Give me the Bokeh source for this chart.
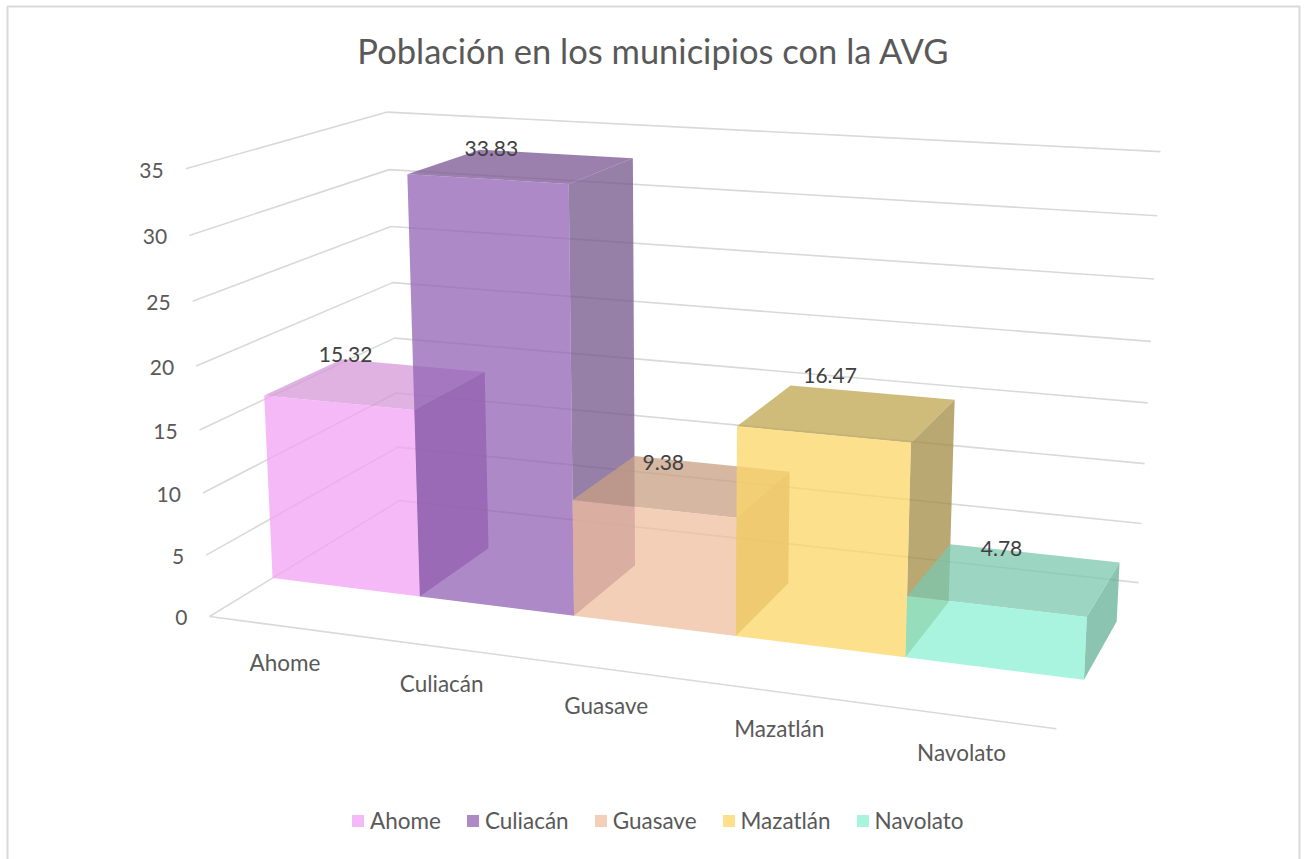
import numpy as np
from bokeh.core.properties import value
from bokeh.embed import file_html
from bokeh.models import Legend, LegendItem, Range1d
from bokeh.plotting import figure
from bokeh.resources import INLINE

# ---- data ----
categories = ["Ahome", "Culiacán", "Guasave", "Mazatlán", "Navolato"]
values = [15.32, 33.83, 9.38, 16.47, 4.78]
value_labels = ["15.32", "33.83", "9.38", "16.47", "4.78"]
y_ticks = [0, 5, 10, 15, 20, 25, 30, 35]
title_text = "Población en los municipios con la AVG"

# ---- composite colours as seen on white ----
ALPHA = 0.75
front_cols = ["#F5B9F8", "#AD8AC7", "#F4CFB8", "#FCE08B", "#A8F4DF"]
top_cols = ["#E0B2E2", "#9B80AE", "#D6B8A2", "#CFBC7B", "#9CD6C3"]
side_cols = ["#B480BA", "#9680A8", "#C9A898", "#B9A872", "#8BC5B2"]

def solid(hex_col):
    rgb = np.array([int(hex_col[i:i + 2], 16) for i in (1, 3, 5)], float)
    base = np.clip((rgb - 255 * (1 - ALPHA)) / ALPHA, 0, 255).astype(int)
    return "#%02x%02x%02x" % tuple(base)

# ---- 3D camera calibrated from the plot box: (slot, value, depth) -> page pixel ----
box_world = [(0, 0, 0), (0, 35, 0), (0, 0, 1), (0, 35, 1), (5, 0, 1), (5, 35, 1), (5, 0, 0)]
box_pixel = [(209, 616), (185, 168.5), (399, 500), (387, 111.5), (1138, 582.5), (1160, 151), (1056, 728)]
A, b = [], []
for (X, Y, Z), (u, v) in zip(box_world, box_pixel):
    A.append([X, Y, Z, 1, 0, 0, 0, 0, -u * X, -u * Y, -u * Z]); b.append(u)
    A.append([0, 0, 0, 0, X, Y, Z, 1, -v * X, -v * Y, -v * Z]); b.append(v)
m = np.linalg.lstsq(np.array(A, float), np.array(b, float), rcond=None)[0]
P = np.append(m, 1.0).reshape(3, 4)

def proj(X, Y, Z):
    q = P @ np.array([X, Y, Z, 1.0])
    return float(q[0] / q[2]), float(q[1] / q[2])

def path(points):
    xy = [proj(*pt) for pt in points]
    return [a for a, _ in xy], [c for _, c in xy]

Z0, Z1 = 0.30, 0.70
N = len(categories)

p = figure(width=1308, height=859, output_backend="svg", toolbar_location=None,
           x_range=Range1d(0, 1308), y_range=Range1d(859, 0),
           min_border=0, outline_line_color=None, background_fill_color="white",
           border_fill_color="white",
           styles={"position": "absolute", "left": "0px", "top": "0px"})
p.axis.visible = False
p.grid.visible = False

# chart border
p.quad(left=[7], right=[1299], top=[6], bottom=[880], fill_color=None, line_color="#D9D9D9", line_width=2)

# gridlines
gx, gy = [], []
for t in y_ticks:
    a, c = path([(0, t, 0), (0, t, 1), (N, t, 1)])
    gx.append(a); gy.append(c)
a, c = path([(0, 0, 0), (N, 0, 0)])
gx.append(a); gy.append(c)
p.multi_line(gx, gy, line_color="#D9D9D9", line_width=1.6)

# bars
fronts = []
for i, val in enumerate(values):
    l, r = i, i + 1
    sx, sy = path([(r, 0, Z0), (r, 0, Z1), (r, val, Z1), (r, val, Z0)])
    p.patch(sx, sy, fill_color=solid(side_cols[i]), fill_alpha=ALPHA, line_color=None)
    tx, ty = path([(l, val, Z0), (l, val, Z1), (r, val, Z1), (r, val, Z0)])
    p.patch(tx, ty, fill_color=solid(top_cols[i]), fill_alpha=ALPHA, line_color=None)
    fx, fy = path([(l, 0, Z0), (r, 0, Z0), (r, val, Z0), (l, val, Z0)])
    fronts.append(p.patch(fx, fy, fill_color=solid(front_cols[i]), fill_alpha=ALPHA, line_color=None))

FONT = value("Lato")

# value-axis labels
tick_xy = [proj(0, t, 0) for t in y_ticks]
p.text([q[0] for q in tick_xy], [q[1] for q in tick_xy], text=[str(t) for t in y_ticks],
       text_font=FONT, text_font_size="21px", text_color="#595959",
       text_align="right", text_baseline="middle", x_offset=-22, y_offset=1.5)

# category labels
cat_xy = [proj(i + 0.5, 0, 0) for i in range(N)]
p.text([q[0] for q in cat_xy], [q[1] for q in cat_xy], text=categories,
       text_font=FONT, text_font_size="22.5px", text_color="#595959",
       text_align="center", text_baseline="middle", y_offset=36)

# data labels
label_dx = [-31, -31, -20, -18, -14]
label_dy = [-29, -18, -23, -37, -30]
lab_xy = [proj(i + 0.5, values[i], 0.5) for i in range(N)]
p.text([q[0] + d for q, d in zip(lab_xy, label_dx)], [q[1] + d for q, d in zip(lab_xy, label_dy)],
       text=value_labels, text_font=FONT, text_font_size="21px", text_color="#404040",
       text_align="center", text_baseline="middle")

# title
p.text([653], [49.5], text=[title_text], text_font=FONT, text_font_size="34.5px",
       text_color="#595959", text_align="center", text_baseline="middle")

# legend
legend = Legend(items=[LegendItem(label=c, renderers=[r]) for c, r in zip(categories, fronts)],
                orientation="horizontal", location=(350, 25), glyph_width=15, glyph_height=15,
                label_standoff=5, spacing=24, margin=0, padding=0,
                border_line_color=None, background_fill_alpha=0,
                label_text_font="Lato", label_text_font_size="22.5px", label_text_color="#595959")
p.add_layout(legend, "center")

open("out.html", "w").write(file_html(p, INLINE))
